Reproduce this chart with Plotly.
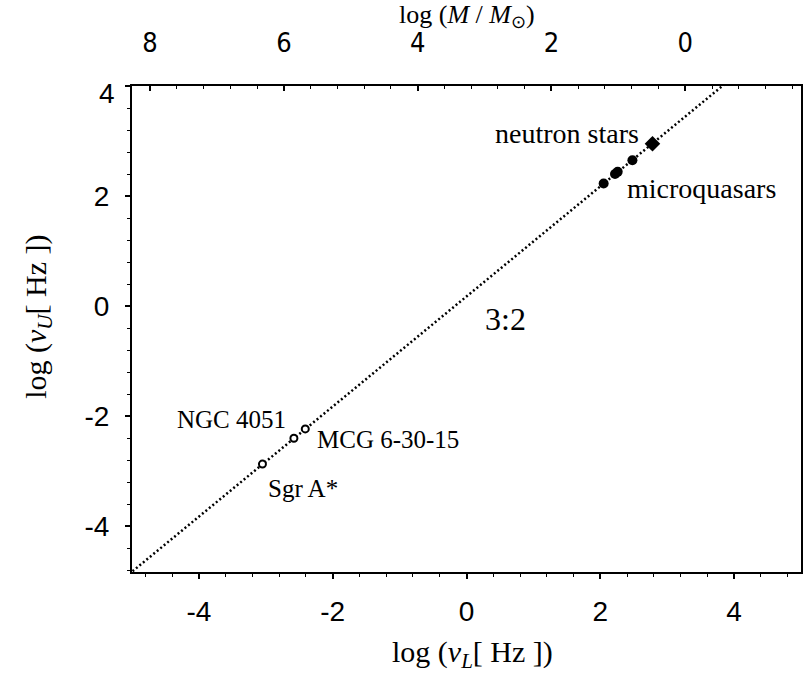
import plotly.graph_objects as go

# ---- data ----
line_x = [-5.2, 4.2]                 # 3:2 resonance line, log nu_L
line_y = [-5.024, 4.376]             # log nu_U = log nu_L + log(3/2)

agn_x = [-3.05, -2.58, -2.41]        # Sgr A*, NGC 4051, MCG 6-30-15
agn_y = [-2.87, -2.40, -2.23]

mq_x = [2.05, 2.22, 2.26, 2.48]      # microquasars
mq_y = [2.23, 2.40, 2.44, 2.65]

ns_x = [2.78]                        # neutron stars
ns_y = [2.95]

x_ticks = [-4, -2, 0, 2, 4]
y_ticks = [-4, -2, 0, 2, 4]
m_ticks = [8, 6, 4, 2, 0]
x_range = [-5, 5]
y_range = [-4.83, 4.0]
m_offset = 3.27                      # log nu_L = 3.27 - log(M/Msun)
m_range = [m_offset - x_range[0], m_offset - x_range[1]]

serif = "Liberation Serif, Times New Roman, serif"
sans = "Liberation Sans, Arial, Helvetica, sans-serif"
narrow = "Liberation Sans Narrow, DejaVu Sans Condensed, Arial Narrow, sans-serif"

fig = go.Figure()
fig.add_trace(go.Scatter(x=line_x, y=line_y, mode="lines",
                         line=dict(color="black", width=2.5, dash="2px,2.5px"),
                         hoverinfo="skip", showlegend=False))
fig.add_trace(go.Scatter(x=agn_x, y=agn_y, mode="markers",
                         marker=dict(symbol="circle", size=7, color="white",
                                     line=dict(color="black", width=2)),
                         showlegend=False))
fig.add_trace(go.Scatter(x=mq_x, y=mq_y, mode="markers",
                         marker=dict(symbol="circle", size=10, color="black"),
                         showlegend=False))
fig.add_trace(go.Scatter(x=ns_x, y=ns_y, mode="markers",
                         marker=dict(symbol="diamond", size=12, color="black"),
                         showlegend=False))
# invisible trace to carry the top mass axis
fig.add_trace(go.Scatter(x=m_range, y=[0, 0], xaxis="x2", mode="markers",
                         marker=dict(opacity=0), hoverinfo="skip", showlegend=False))

common = dict(showgrid=False, zeroline=False, showline=True, linewidth=2,
              linecolor="black", ticks="outside", ticklen=5, tickwidth=1.5,
              tickcolor="black")

y_text = [str(v) if v != 4 else "" for v in y_ticks]

fig.update_layout(
    width=812, height=679,
    margin=dict(l=132, r=9, t=86, b=107),
    paper_bgcolor="white", plot_bgcolor="white",
    xaxis=dict(range=x_range, tickvals=x_ticks, ticktext=[str(v) for v in x_ticks],
               tickfont=dict(family=sans, size=28, color="black"),
               ticklabelstandoff=8,
               minor=dict(dtick=0.4, tick0=0, ticks="outside", ticklen=3,
                          tickwidth=1, tickcolor="black"),
               **common),
    yaxis=dict(range=y_range, tickvals=y_ticks, ticktext=y_text,
               tickfont=dict(family=sans, size=28, color="black"),
               ticklabelstandoff=10, mirror=True,
               minor=dict(dtick=0.4, tick0=0, ticks="outside", ticklen=3,
                          tickwidth=1, tickcolor="black"),
               **common),
    xaxis2=dict(overlaying="x", side="top", anchor="y", range=m_range,
                tickvals=m_ticks, ticktext=[str(v) for v in m_ticks],
                showgrid=False, zeroline=False, showline=True, linewidth=2,
                linecolor="black", ticks="inside", ticklen=5, tickwidth=1.5,
                tickcolor="black",
                tickfont=dict(family=narrow, size=27, color="black"),
                ticklabelstandoff=21,
                minor=dict(dtick=0.4, tick0=0, ticks="inside", ticklen=3,
                           tickwidth=1, tickcolor="black")),
)

# the top "4" label on the y axis sits a little below its tick
fig.add_annotation(text=str(y_ticks[-1]), x=0, y=y_ticks[-1], xref="paper", yref="y",
                   xanchor="right", yanchor="middle", xshift=-15, yshift=-7,
                   showarrow=False, font=dict(family=sans, size=28, color="black"))

ann = [
    dict(text="neutron stars", x=1.50, y=3.13, size=28, xanchor="center"),
    dict(text="microquasars", x=3.51, y=2.13, size=28, xanchor="center"),
    dict(text="3:2", x=0.59, y=-0.24, size=32, xanchor="center"),
    dict(text="NGC 4051", x=-2.67, y=-2.06, size=25, xanchor="right"),
    dict(text="MCG 6-30-15", x=-2.26, y=-2.43, size=25, xanchor="left"),
    dict(text="Sgr A*", x=-3.00, y=-3.31, size=25, xanchor="left"),
]
for a in ann:
    fig.add_annotation(text=a["text"], x=a["x"], y=a["y"], xref="x", yref="y",
                       xanchor=a["xanchor"], yanchor="middle", showarrow=False,
                       font=dict(family=serif, size=a["size"], color="black"))

# axis titles
fig.add_annotation(text="log (<i>ν</i><sub><i>L</i></sub>[ Hz ])",
                   xref="paper", yref="paper", x=0.5, y=0, xshift=6, yshift=-82,
                   xanchor="center", yanchor="middle", showarrow=False,
                   font=dict(family=serif, size=30, color="black"))
fig.add_annotation(text="log (<i>ν</i><sub><i>U</i></sub>[ Hz ])",
                   xref="paper", yref="paper", x=0, y=0.525, xshift=-94,
                   xanchor="center", yanchor="middle", textangle=-90, showarrow=False,
                   font=dict(family=serif, size=30, color="black"))
fig.add_annotation(text="log (<i>M</i> / <i>M</i><sub>⊙</sub>)",
                   xref="paper", yref="paper", x=0.5, y=1, yshift=70,
                   xanchor="center", yanchor="middle", showarrow=False,
                   font=dict(family=serif, size=26, color="black"))

fig.write_html("out.html")
